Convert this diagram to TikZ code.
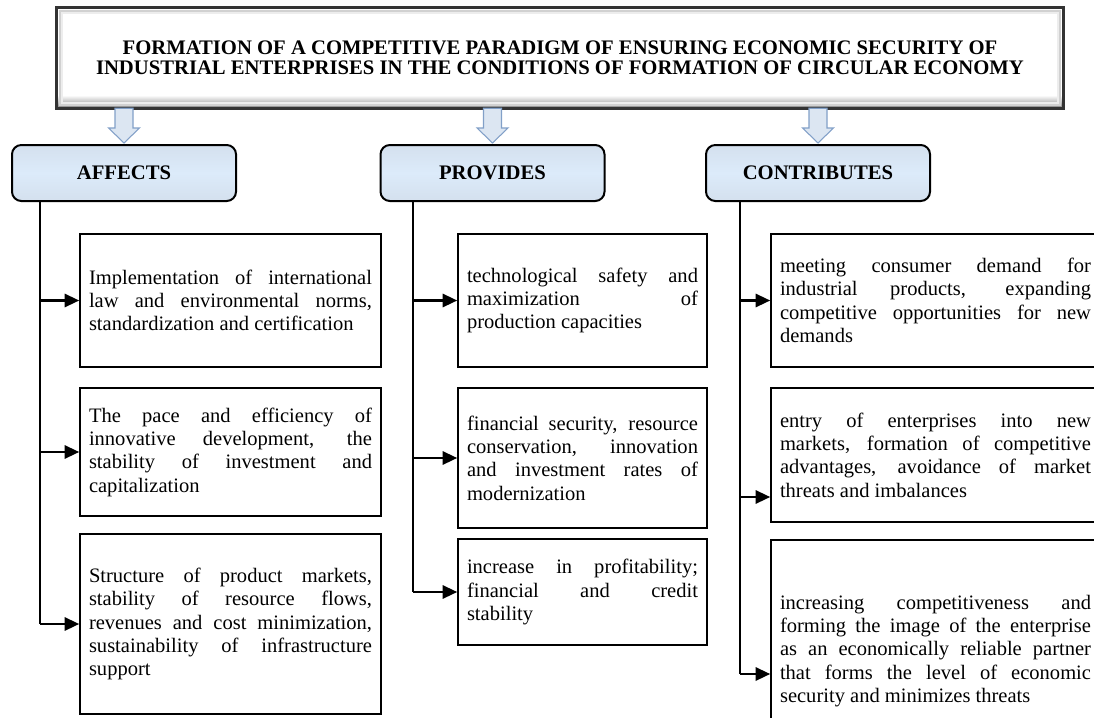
\documentclass[tikz,border=0pt]{standalone}
\usepackage{fontspec}
\setmainfont{Liberation Serif}
\usetikzlibrary{arrows.meta,calc}
\definecolor{hdrmid}{RGB}{220,235,250}
\definecolor{hdrband}{RGB}{212,224,238}
\definecolor{arrfill}{RGB}{220,230,242}
\definecolor{arrline}{RGB}{130,160,200}
\tikzset{
  titlebox/.style={fill=white, minimum width=754.5pt, minimum height=75pt, align=center,
    font=\fontsize{15.5}{15}\selectfont\bfseries},
  hdr/.style={draw=black, line width=1.5pt, rounded corners=7pt,
    top color=hdrband, bottom color=hdrband, middle color=hdrmid,
    minimum width=168pt, minimum height=42pt, font=\fontsize{15.5}{18}\selectfont\bfseries},
  cbox/.style={draw=black, line width=1.2pt, fill=white, inner xsep=0pt, align=justify,
    font=\fontsize{15.4}{17.5}\selectfont,
    execute at begin node={\hyphenpenalty=10000\exhyphenpenalty=10000\tolerance=10000}},
  lbox/.style={cbox, minimum width=225.75pt, text width=212.25pt},
  mbox/.style={cbox, minimum width=186.75pt, text width=173.25pt},
  rbox/.style={cbox, minimum width=246.75pt, text width=233.25pt},
  trunk/.style={draw=black, line width=1.7pt},
  conn/.style={draw=black, line width=1.7pt, -{Triangle[length=11pt,width=10pt]}},
  barrow/.style={draw=arrline, line width=0.8pt, fill=arrfill, line join=miter}
}
\newcommand\blockarrowdraw[2]{%
  \draw[barrow] let \p1=(#1), \p2=(#2) in
    (\x1-6.75pt,\y1) -- (\x1-6.75pt,\y2+12pt) -- (\x1-11.6pt,\y2+12pt) --
    (\x1,\y2+0.75pt) -- (\x1+11.6pt,\y2+12pt) -- (\x1+6.75pt,\y2+12pt) --
    (\x1+6.75pt,\y1) -- cycle;}
\begin{document}
\begin{tikzpicture}[x=0.75pt,y=-0.75pt]
\useasboundingbox (0,0) rectangle (1094,717);
\fill[white] (0,0) rectangle (1094,717);
\clip (0,0) rectangle (1094,717);

% title
\node[titlebox] (title) at (560,58) {FORMATION OF A COMPETITIVE PARADIGM OF ENSURING ECONOMIC SECURITY OF\\INDUSTRIAL ENTERPRISES IN THE CONDITIONS OF FORMATION OF CIRCULAR ECONOMY};
\shade[top color=white, bottom color=black!45] ($(title.south west)+(2,-13)$) rectangle ($(title.south east)+(-2,-1)$);
\draw[black!18, line width=1.5pt] ($(title.south west)+(3,-3)$) rectangle ($(title.north east)+(-3,3)$);
\draw[black!7, line width=1.5pt] ($(title.south west)+(5,-5)$) rectangle ($(title.north east)+(-5,5)$);
\draw[black!80, line width=2pt] (title.south west) rectangle (title.north east);

% headers
\node[hdr] (affects) at (124,173) {AFFECTS};
\node[hdr] (provides) at (492.5,173) {PROVIDES};
\node[hdr] (contrib) at (818,173) {CONTRIBUTES};

\blockarrowdraw{title.south -| affects.north}{affects.north}
\blockarrowdraw{title.south -| provides.north}{provides.north}
\blockarrowdraw{title.south -| contrib.north}{contrib.north}

% content boxes
\node[lbox, minimum height=99.75pt] (a1) at (230.5,300.5) {Implementation of international\linebreak law and environmental norms,\linebreak standardization and certification};
\node[lbox, minimum height=96pt] (a2) at (230.5,452) {The pace and efficiency of\linebreak innovative development, the\linebreak stability of investment and\linebreak capitalization};
\node[lbox, minimum height=135pt] (a3) at (230.5,624) {Structure of product markets,\linebreak stability of resource flows,\linebreak revenues and cost minimization,\linebreak sustainability of infrastructure\linebreak support};

\node[mbox, minimum height=99.75pt] (b1) at (582.5,300.5) {technological safety and\linebreak maximization of\linebreak production capacities};
\node[mbox, minimum height=105pt] (b2) at (582.5,458) {financial security, resource\linebreak conservation, innovation\linebreak and investment rates of\linebreak modernization};
\node[mbox, minimum height=79.5pt] (b3) at (582.5,592) {increase in profitability;\linebreak financial and credit\linebreak stability};

\node[rbox, minimum height=99.75pt] (c1) at (935.5,300.5) {meeting consumer demand for\linebreak industrial products, expanding\linebreak competitive opportunities for new\linebreak demands};
\node[rbox, minimum height=100.5pt] (c2) at (935.5,455) {entry of enterprises into new\linebreak markets, formation of competitive\linebreak advantages, avoidance of market\linebreak threats and imbalances};
\node[rbox, minimum height=166.5pt] (c3) at (935.5,651) {increasing competitiveness and\linebreak forming the image of the enterprise\linebreak as an economically reliable partner\linebreak that forms the level of economic\linebreak security and minimizes threats};

% connectors
\coordinate (la) at (40,0);
\coordinate (lb) at (413,0);
\coordinate (lc) at (740,0);
\coordinate (c2in) at ($(c2.west)+(0,42)$);
\coordinate (c3in) at ($(c3.west)+(0,23)$);

\draw[trunk] (affects.south -| la) -- (a3.west -| la);
\draw[conn] (a1.west -| la) -- (a1.west);
\draw[conn] (a2.west -| la) -- (a2.west);
\draw[conn] (a3.west -| la) -- (a3.west);

\draw[trunk] (provides.south -| lb) -- (b3.west -| lb);
\draw[conn] (b1.west -| lb) -- (b1.west);
\draw[conn] (b2.west -| lb) -- (b2.west);
\draw[conn] (b3.west -| lb) -- (b3.west);

\draw[trunk] (contrib.south -| lc) -- (c3in -| lc);
\draw[conn] (c1.west -| lc) -- (c1.west);
\draw[conn] (c2in -| lc) -- (c2in);
\draw[conn] (c3in -| lc) -- (c3in);
\end{tikzpicture}
\end{document}
